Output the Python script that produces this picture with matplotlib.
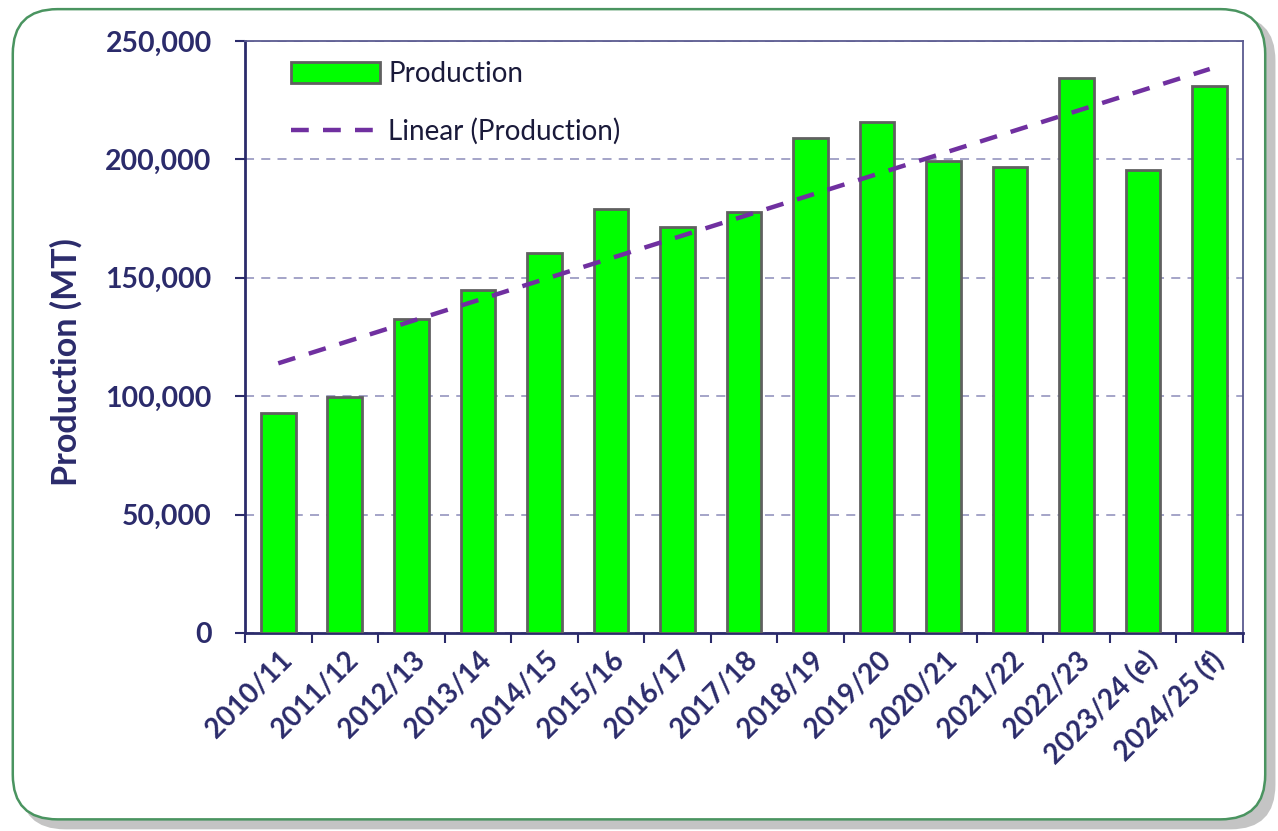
import numpy as np
import matplotlib
matplotlib.use("Agg")
import matplotlib.pyplot as plt
from matplotlib.patches import FancyBboxPatch
from matplotlib.ticker import FuncFormatter, FixedLocator

categories = ["2010/11", "2011/12", "2012/13", "2013/14", "2014/15", "2015/16",
              "2016/17", "2017/18", "2018/19", "2019/20", "2020/21", "2021/22",
              "2022/23", "2023/24 (e)", "2024/25 (f)"]
production = [93000, 99600, 132500, 144800, 160500, 179000, 171500, 177800,
              209000, 215800, 199300, 196700, 234300, 195500, 231000]
yticks = [0, 50000, 100000, 150000, 200000, 250000]

NAVY = "#2b2b6b"
plt.rcParams['font.family'] = ['Lato', 'DejaVu Sans']

fig = plt.figure(figsize=(12.78, 8.31), dpi=100)
fig.patch.set_facecolor("white")

# outer frame with shadow
shadow = FancyBboxPatch((0.016, 0.002), 0.982, 0.979, boxstyle="round,pad=0,rounding_size=0.035",
                        transform=fig.transFigure, facecolor="#c4c4c4", edgecolor="none",
                        mutation_aspect=1278/831, zorder=-3)
fig.patches.append(shadow)
frame = FancyBboxPatch((0.010, 0.014), 0.980, 0.975, boxstyle="round,pad=0,rounding_size=0.035",
                       transform=fig.transFigure, facecolor="white", edgecolor="#4a9460",
                       linewidth=1.8, mutation_aspect=1278/831, zorder=-2)
fig.patches.append(frame)

ax = fig.add_axes([0.1917, 0.2383, 0.7809, 0.7124])
ax.set_zorder(2)
ax.set_facecolor("none")

x = np.arange(len(categories))
bars = ax.bar(x, production, width=0.52, color="#00ff00", edgecolor="#606060", linewidth=2.0,
              zorder=3, label="Production")

# linear trend
coef = np.polyfit(x, production, 1)
xt = np.array([x[0], x[-1]])
trend, = ax.plot(xt, np.polyval(coef, xt), linestyle=(0, (4, 3.2)), color="#7030a0",
                 linewidth=3.2, zorder=4, label="Linear (Production)")

ax.set_xlim(-0.5, len(categories) - 0.5)
ax.set_ylim(0, 250000)
ax.yaxis.set_major_locator(FixedLocator(yticks))
ax.yaxis.set_major_formatter(FuncFormatter(lambda v, p: f"{int(v):,}"))
ax.grid(axis="y", linestyle=(0, (5, 4)), color="#9d9dc4", linewidth=1.3, zorder=1)

ax.set_xticks(x)
ax.set_xticklabels(categories, rotation=45, ha="right", rotation_mode="anchor",
                   fontsize=20, fontweight="bold", color=NAVY)
ax.tick_params(axis="x", which="major", length=0, pad=10)
ax.set_xticks(np.arange(-0.5, len(categories)), minor=True)
ax.tick_params(axis="x", which="minor", length=7, width=1.5, color=NAVY, direction="out")
ax.tick_params(axis="y", length=7, width=1.5, color=NAVY, direction="out",
               labelsize=20.5, labelcolor=NAVY, pad=17)
for lab in ax.get_yticklabels():
    lab.set_fontweight("bold")

for side in ["left", "bottom"]:
    ax.spines[side].set_color(NAVY)
    ax.spines[side].set_linewidth(2.0)
for side in ["top", "right"]:
    ax.spines[side].set_color("#5a5a90")
    ax.spines[side].set_linewidth(1.3)

ax.set_ylabel("Production (MT)", fontsize=24.5, fontweight="bold", color=NAVY)
ax.yaxis.set_label_coords(-0.163, 0.457)

leg = ax.legend(handles=[bars, trend], labels=["Production", "Linear (Production)"],
                loc="upper left", bbox_to_anchor=(0.021, 1.008), frameon=False, fontsize=20,
                handlelength=3.2, handleheight=0.75, labelspacing=1.1, handletextpad=0.3)
for t in leg.get_texts():
    t.set_color("#1a1a3a")

fig.savefig("out.png", dpi=100)
